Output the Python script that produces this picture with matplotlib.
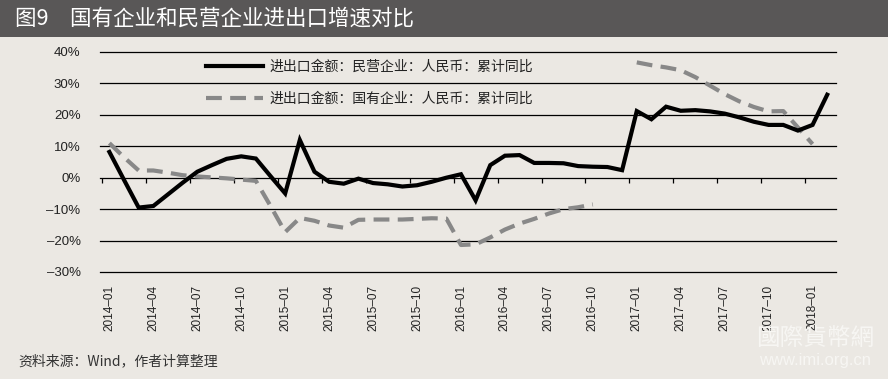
import numpy as np
import matplotlib
matplotlib.use("Agg")
import matplotlib.pyplot as plt
from matplotlib.patches import Rectangle

# ---------------- data ----------------
years = [2014, 2015, 2016, 2017, 2018]
months = [f"{y}–{m:02d}" for y in years for m in range(1, 13)][:50]   # 2014-01 .. 2018-02

private_yoy = [8.2, -0.7, -9.5, -9.0, -5.3, -1.6, 1.9, 4.0, 6.0, 6.8,
               6.1, 0.5, -5.0, 12.0, 1.9, -1.3, -1.9, -0.3, -1.7, -2.1,
               -2.8, -2.4, -1.3, 0.0, 1.1, -7.2, 4.0, 7.0, 7.2, 4.7,
               4.7, 4.6, 3.7, 3.5, 3.4, 2.4, 21.2, 18.6, 22.6, 21.3,
               21.5, 21.1, 20.4, 19.2, 17.8, 16.8, 16.8, 15.0, 16.8, 26.4]

state_yoy = [11.0, 6.5, 2.3, 2.3, 1.6, 0.8, 0.4, 0.1, -0.2, -0.6,
             -1.0, -9.0, -17.3, -12.8, -13.7, -15.2, -15.9, -13.4, -13.3, -13.3,
             -13.3, -13.1, -12.9, -13.0, -21.4, -21.2, -19.0, -16.5, -14.6, -13.1,
             -11.4, -10.0, -9.4, -8.5, np.nan, np.nan, 36.7, 35.8, 35.1, 34.2,
             32.0, 29.3, 26.6, 24.3, 22.5, 21.1, 21.2, 16.0, 10.7, np.nan]

y_ticks = [-30, -20, -10, 0, 10, 20, 30, 40]
y_tick_labels = ["–30%", "–20%", "–10%", "0%", "10%", "20%", "30%", "40%"]

label_private = "进出口金额：民营企业：人民币：累计同比"
label_state = "进出口金额：国有企业：人民币：累计同比"
title = "图9　国有企业和民营企业进出口增速对比"
source = "资料来源：Wind，作者计算整理"

# ---------------- figure ----------------
BG = "#ebe8e3"
W, H = 888, 379
fig = plt.figure(figsize=(W / 100, H / 100), dpi=100, facecolor=BG)

# title bar
fig.patches.append(Rectangle((0, 1 - 37 / H), 1, 37 / H, transform=fig.transFigure,
                             facecolor="#595757", edgecolor="none", zorder=0))
fig.text(15 / W, 1 - 19 / H, title, color="white", fontsize=15.5,
         family=["Noto Sans CJK SC", "DejaVu Sans"], va="center", ha="left")

ax = fig.add_axes([100 / W, (H - 272) / H, 736 / W, 220 / H])
ax.set_facecolor(BG)
for s in ax.spines.values():
    s.set_visible(False)

x = np.arange(len(months))
ax.set_xlim(-0.64, 49.6)
ax.set_ylim(-30, 40)

# gridlines
for yv in y_ticks:
    ax.axhline(yv, color="black", lw=0.9, zorder=1, clip_on=False)
# tick marks on the zero line (category boundaries, every 3 months)
ax.vlines(np.arange(0, 50, 3) - 0.5, -1.6, 0, color="black", lw=0.9, zorder=1)

ax.plot(x, private_yoy, color="black", lw=3.0, solid_joinstyle="miter", zorder=3,
        label=label_private)
ax.plot(x, state_yoy, color="#888888", lw=3.0, dashes=(3.8, 2.0), zorder=2,
        label=label_state)

ax.set_yticks(y_ticks)
ax.set_yticklabels(y_tick_labels, family=["Liberation Sans"], fontsize=9.5, color="#222222")
ax.tick_params(axis="y", length=0, pad=14)

ax.set_xticks(x[::3])
ax.set_xticklabels(months[::3], rotation=90, family=["Liberation Sans"], fontsize=8.5,
                   color="#222222")
ax.tick_params(axis="x", length=0, pad=9)

leg = ax.legend(loc="upper left", bbox_to_anchor=(206 / W, 1 - 60 / H),
                bbox_transform=fig.transFigure, frameon=False, handlelength=4.1,
                handletextpad=0.5, labelspacing=1.3, borderpad=0, borderaxespad=0,
                prop={"family": ["Noto Sans CJK SC", "DejaVu Sans"], "size": 10})
for t in leg.get_texts():
    t.set_color("#222222")

# footer
fig.text(18 / W, 1 - 361 / H, source, fontsize=10, color="#333333",
         family=["Noto Sans CJK SC", "DejaVu Sans"], va="center", ha="left")

# watermark
fig.text(815 / W, 1 - 338 / H, "國際貨幣網", fontsize=17, color="#f7f6f3",
         family=["Noto Sans CJK TC", "DejaVu Sans"], va="center", ha="center", zorder=0)
fig.text(815 / W, 1 - 361 / H, "www.imi.org.cn", fontsize=12, color="#f7f6f3",
         family=["Liberation Sans"], va="center", ha="center", zorder=0)

fig.savefig("out.png", dpi=100, facecolor=BG)
